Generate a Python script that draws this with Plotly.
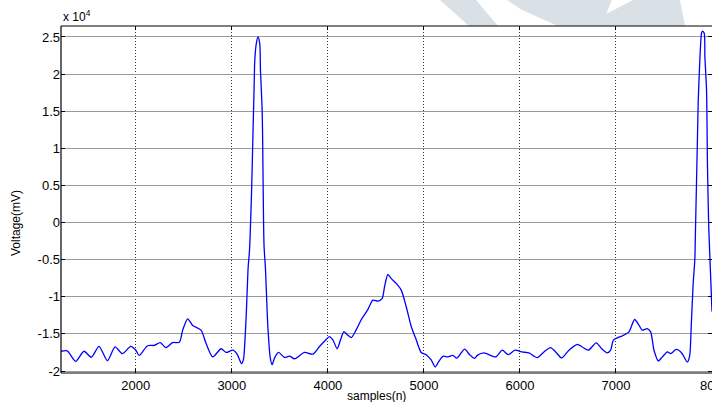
import plotly.graph_objects as go

# ---- data ----
samples = [1221, 1286, 1373, 1460, 1537, 1617, 1704, 1784, 1861, 1948,
           2000, 2035, 2122, 2192, 2254, 2314, 2383, 2453, 2488, 2540,
           2592, 2679, 2732, 2801, 2888, 2941, 3010, 3056, 3100, 3120,
           3140, 3152, 3170, 3184, 3205, 3221, 3232, 3239, 3256, 3273,
           3291, 3298, 3315, 3320, 3335, 3350, 3375, 3401, 3420, 3444,
           3486, 3549, 3601, 3653, 3757, 3844, 3913, 3965, 4017, 4052,
           4097, 4132, 4167, 4201, 4243, 4295, 4347, 4417, 4469, 4521,
           4566, 4590, 4625, 4660, 4712, 4764, 4816, 4868, 4920, 4972,
           5024, 5076, 5118, 5156, 5201, 5250, 5302, 5344, 5424, 5476,
           5528, 5556, 5625, 5747, 5816, 5878, 5948, 6024, 6094, 6181,
           6250, 6319, 6372, 6434, 6510, 6597, 6649, 6712, 6795, 6851,
           6910, 6944, 6972, 7014, 7066, 7135, 7194, 7240, 7274, 7326,
           7361, 7396, 7441, 7483, 7535, 7569, 7628, 7684, 7743, 7767,
           7785, 7804, 7821, 7828, 7846, 7857, 7874, 7891, 7901, 7919,
           7926, 7943, 7953, 7967, 8000]
voltage_e4 = [-1.734, -1.73, -1.87, -1.734, -1.815, -1.667, -1.86, -1.676, -1.766, -1.667,
              -1.72, -1.79, -1.66, -1.655, -1.617, -1.685, -1.617, -1.613, -1.45, -1.297,
              -1.387, -1.45, -1.63, -1.81, -1.70, -1.75, -1.72, -1.775, -1.90, -1.85,
              -1.50, -1.18, -0.60, -0.37, 0.40, 1.25, 1.83, 2.19, 2.42, 2.50,
              2.40, 2.05, 1.55, 1.20, -0.30, -0.62, -1.40, -1.83, -1.915, -1.826,
              -1.75, -1.817, -1.80, -1.835, -1.75, -1.772, -1.67, -1.60, -1.536, -1.58,
              -1.70, -1.58, -1.47, -1.51, -1.55, -1.446, -1.31, -1.17, -1.045, -1.058,
              -1.02, -0.866, -0.70, -0.755, -0.82, -0.91, -1.134, -1.40, -1.58, -1.75,
              -1.78, -1.85, -1.946, -1.87, -1.80, -1.81, -1.79, -1.826, -1.705, -1.78,
              -1.83, -1.79, -1.757, -1.81, -1.72, -1.78, -1.72, -1.743, -1.757, -1.82,
              -1.743, -1.685, -1.743, -1.824, -1.72, -1.64, -1.676, -1.72, -1.62, -1.70,
              -1.757, -1.72, -1.586, -1.554, -1.527, -1.473, -1.306, -1.383, -1.45, -1.428,
              -1.473, -1.72, -1.865, -1.81, -1.743, -1.766, -1.71, -1.757, -1.88, -1.80,
              -1.36, -0.82, -0.505, -0.1, 0.977, 1.65, 2.21, 2.55, 2.58, 2.55,
              2.23, 1.79, 0.75, -0.1, -1.2]
voltage = [v * 1e4 for v in voltage_e4]

x_ticks = [2000, 3000, 4000, 5000, 6000, 7000]
edge_tick = 8000
y_ticks = [-20000, -15000, -10000, -5000, 0, 5000, 10000, 15000, 20000, 25000]
y_ticklabels = ["-2", "-1.5", "-1", "-0.5", "0", "0.5", "1", "1.5", "2", "2.5"]
x_range = [1221, 8000]

# ---- layout geometry (pixels) ----
W, H = 712, 402
L, R, T, B = 61, 0, 26, 29
PW, PH = W - L - R, H - T - B


def xp(px):
    return (px - L) / PW


def yp(py):
    return (H - B - py) / PH


FONT = "Liberation Sans, Arial, sans-serif"

fig = go.Figure()
fig.add_trace(go.Scatter(x=samples, y=voltage, mode="lines",
                         line=dict(color="#0000ff", width=1.3, shape="spline", smoothing=0.7),
                         showlegend=False, hoverinfo="skip"))

axis_common = dict(showline=False, mirror="ticks",
                   ticks="inside", ticklen=4, tickcolor="black", tickwidth=1,
                   zeroline=False, automargin=False,
                   tickfont=dict(family=FONT, size=13, color="black"))

fig.update_xaxes(range=x_range, tickvals=x_ticks, showgrid=True, ticklabelstandoff=3,
                 gridcolor="#333333", griddash="1px,2px", gridwidth=1, **axis_common)
fig.update_yaxes(range=[-20270, 26480], tickvals=y_ticks, ticktext=y_ticklabels,
                 showgrid=True, gridcolor="#9a9a9a", gridwidth=1.4, **axis_common)

# faint watermark above the plot area
wm_color = "#dae1e6"
polys = [
    [(440, 0), (476, 0), (498, 26), (469, 26)],
    [(507, 0), (612, 0), (606, 14), (633, 0), (680, 0), (685, 26), (558, 26), (522, 10)],
]
shapes = []
for poly in polys:
    path = "M " + " L ".join(f"{xp(a):.4f},{yp(b):.4f}" for a, b in poly) + " Z"
    shapes.append(dict(type="path", xref="paper", yref="paper", path=path,
                       fillcolor=wm_color, line=dict(width=0), layer="below"))

# axis box: left, bottom, top (right edge lies just outside the window)
for x0, y0, x1, y1 in [(0, 0, 0, 1), (0, 0, 1.01, 0), (0, 1, 1.01, 1)]:
    shapes.append(dict(type="line", xref="paper", yref="paper", x0=x0, y0=y0, x1=x1, y1=y1,
                       line=dict(color="black", width=1.2), layer="above"))

edge_px = L + (edge_tick - x_range[0]) / (x_range[1] - x_range[0]) * PW + 2

annotations = [
    dict(text="x 10<sup>4</sup>", xref="paper", yref="paper", x=xp(61), y=yp(16),
         xanchor="left", yanchor="middle", showarrow=False,
         font=dict(family=FONT, size=12, color="black")),
    dict(text="Voltage(mV)", xref="paper", yref="paper", x=xp(16), y=yp(223),
         xanchor="center", yanchor="middle", textangle=-90, showarrow=False,
         font=dict(family=FONT, size=12, color="black")),
    dict(text="samples(n)", xref="paper", yref="paper", x=xp(376), y=yp(396),
         xanchor="center", yanchor="middle", showarrow=False,
         font=dict(family=FONT, size=12, color="black")),
    dict(text=str(edge_tick), xref="paper", yref="paper", x=xp(edge_px), y=yp(385),
         xanchor="center", yanchor="middle", showarrow=False,
         font=dict(family=FONT, size=13, color="black")),
]

fig.update_layout(width=W, height=H, margin=dict(l=L, r=R, t=T, b=B, pad=0),
                  paper_bgcolor="white", plot_bgcolor="white",
                  shapes=shapes, annotations=annotations)

fig.write_html("out.html")
